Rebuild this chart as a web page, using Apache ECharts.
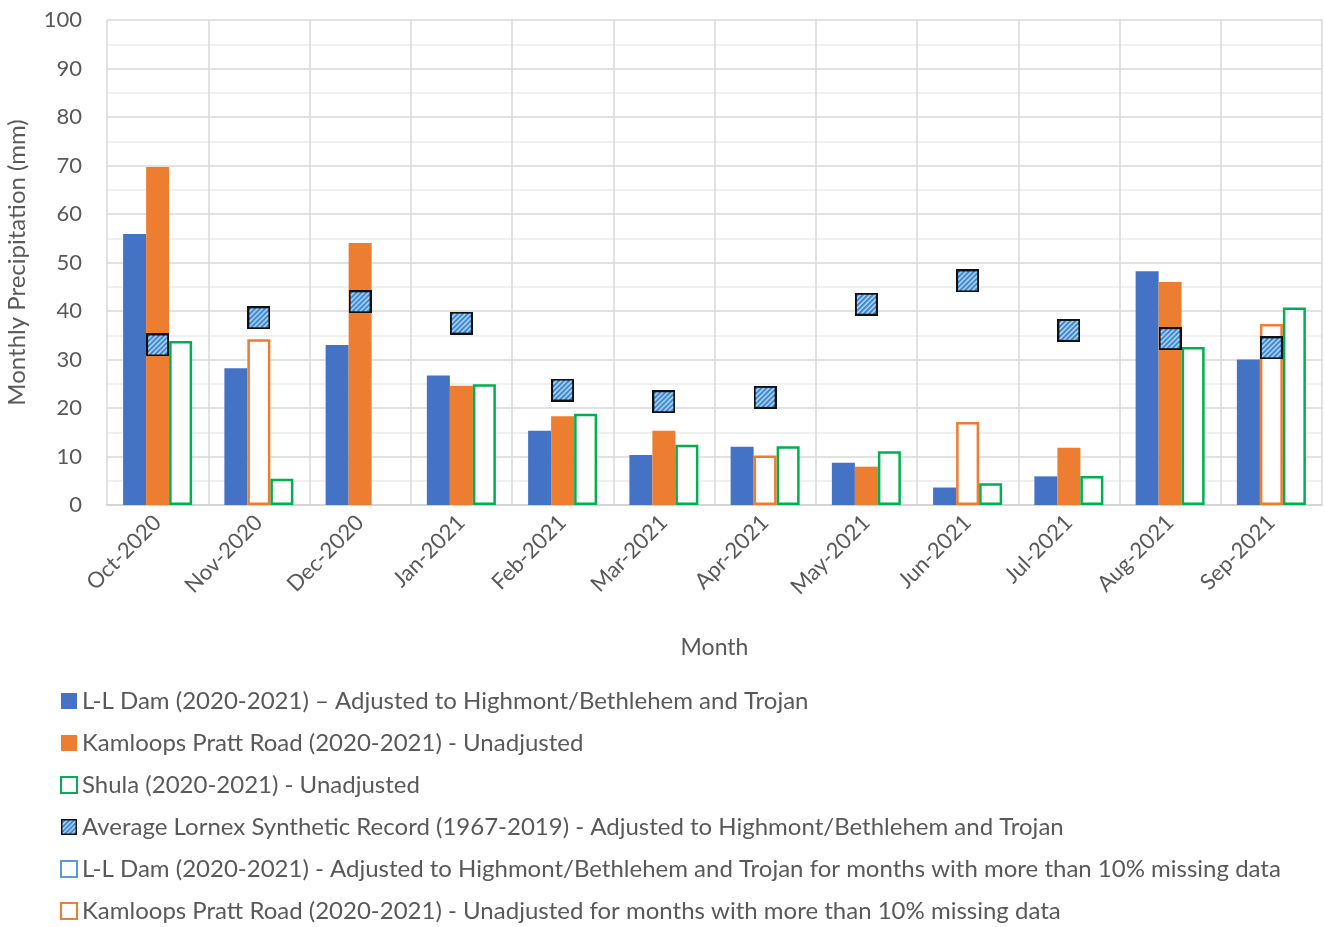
<!DOCTYPE html>
<html>
<head>
<meta charset="utf-8">
<script src="https://cdn.jsdelivr.net/npm/echarts@6/dist/echarts.min.js"></script>
<style>
html,body{margin:0;padding:0;background:#fff;}
#c{width:1325px;height:927px;}
</style>
</head>
<body>
<div id="c"></div>
<script>
const months = ['Oct-2020','Nov-2020','Dec-2020','Jan-2021','Feb-2021','Mar-2021','Apr-2021','May-2021','Jun-2021','Jul-2021','Aug-2021','Sep-2021'];
const llDam = [55.9, 28.2, 33.0, 26.7, 15.3, 10.3, 12.0, 8.7, 3.6, 5.9, 48.2, 30.0];
const kamloops = [69.7, null, 54.0, 24.6, 18.3, 15.3, null, 7.9, null, 11.8, 46.0, null];
const shula = [33.8, 5.4, null, 24.9, 18.8, 12.4, 12.1, 11.1, 4.5, 6.0, 32.6, 40.7];
const lornexAvg = [33.0, 38.6, 41.9, 37.5, 23.7, 21.3, 22.2, 41.4, 46.2, 36.0, 34.3, 32.4];
const llDamMissing = [null, null, null, null, null, null, null, null, null, null, null, null];
const kamloopsMissing = [null, 34.2, null, null, null, null, 10.2, null, 17.1, null, null, 37.3];
const yTicks = {min: 0, max: 100, interval: 10};

const names = [
  'L-L Dam (2020-2021) – Adjusted to Highmont/Bethlehem and Trojan',
  'Kamloops Pratt Road (2020-2021) - Unadjusted',
  'Shula (2020-2021) - Unadjusted',
  'Average Lornex Synthetic Record (1967-2019) - Adjusted to Highmont/Bethlehem and Trojan',
  'L-L Dam (2020-2021) - Adjusted to Highmont/Bethlehem and Trojan for months with more than 10% missing data',
  'Kamloops Pratt Road (2020-2021) - Unadjusted for months with more than 10% missing data'
];

// hatched square marker image
function hatchImage(size, border) {
  const c = document.createElement('canvas');
  c.width = size; c.height = size;
  const g = c.getContext('2d');
  g.fillStyle = '#ffffff';
  g.fillRect(0, 0, size, size);
  g.save();
  g.beginPath(); g.rect(0, 0, size, size); g.clip();
  g.strokeStyle = '#3a8ad6';
  g.lineWidth = 2.6;
  for (let k = -size; k <= 2 * size; k += 5) {
    g.beginPath(); g.moveTo(k, size); g.lineTo(k + size, 0); g.stroke();
  }
  g.restore();
  g.strokeStyle = '#111';
  g.lineWidth = border;
  g.strokeRect(border / 2, border / 2, size - border, size - border);
  return 'image://' + c.toDataURL();
}
const markerImg = hatchImage(23, 2);
const legendImg = hatchImage(17, 1.5);

const FONT = 'Lato';
const chart = echarts.init(document.getElementById('c'), null, {renderer: 'canvas'});
chart.setOption({
  animation: false,
  backgroundColor: '#fff',
  textStyle: {fontFamily: FONT},
  grid: {left: 107, right: 3, top: 20, bottom: 422, containLabel: false, outerBoundsMode: 'none'},
  legend: {
    orient: 'vertical', left: 60, top: 689, height: 240, padding: 0,
    itemWidth: 16, itemHeight: 16, itemGap: 18,
    textStyle: {fontSize: 24, lineHeight: 24, color: '#595959', fontFamily: FONT},
    data: names.map((n, i) => ({name: n, icon: i === 3 ? legendImg : 'rect'}))
  },
  xAxis: {
    type: 'category', data: months,
    name: 'Month', nameLocation: 'middle', nameGap: 131,
    nameTextStyle: {fontSize: 23, color: '#595959'},
    axisTick: {show: false},
    axisLine: {lineStyle: {color: '#d0d0d0', width: 1.5}},
    axisLabel: {rotate: 45, fontSize: 22, color: '#595959', margin: 14, interval: 0},
    splitLine: {show: true, interval: 0, lineStyle: {color: '#d9d9d9', width: 1.5}}
  },
  yAxis: {
    type: 'value', min: yTicks.min, max: yTicks.max, interval: yTicks.interval,
    name: 'Monthly Precipitation (mm)', nameLocation: 'middle', nameGap: 78,
    nameTextStyle: {fontSize: 24, color: '#595959'},
    axisLine: {show: false}, axisTick: {show: false},
    axisLabel: {fontSize: 22, color: '#595959', margin: 25},
    splitLine: {lineStyle: {color: '#d9d9d9', width: 1.5}},
    minorTick: {show: false, splitNumber: 2},
    minorSplitLine: {show: true, lineStyle: {color: '#ececec', width: 1.5}}
  },
  series: [
    {name: names[0], type: 'bar', stack: 'll', data: llDam, barWidth: 23, barGap: '0%',
     itemStyle: {color: '#4472c4'}},
    {name: names[1], type: 'bar', stack: 'kam', data: kamloops, barWidth: 23, barGap: '0%',
     itemStyle: {color: '#ed7d31'}},
    {name: names[2], type: 'bar', stack: 'sh', data: shula, barWidth: 23, barGap: '0%',
     itemStyle: {color: '#ffffff', borderColor: '#00b050', borderWidth: 2.5}},
    {name: names[3], type: 'scatter', data: lornexAvg, symbol: markerImg, symbolSize: 23, z: 5,
     itemStyle: {opacity: 1}},
    {name: names[4], type: 'bar', stack: 'll', data: llDamMissing, barWidth: 23, barGap: '0%',
     itemStyle: {color: '#ffffff', borderColor: '#5b9bd5', borderWidth: 2.5}},
    {name: names[5], type: 'bar', stack: 'kam', data: kamloopsMissing, barWidth: 23, barGap: '0%',
     itemStyle: {color: '#ffffff', borderColor: '#ed7d31', borderWidth: 2.5}}
  ]
});
</script>
</body>
</html>
